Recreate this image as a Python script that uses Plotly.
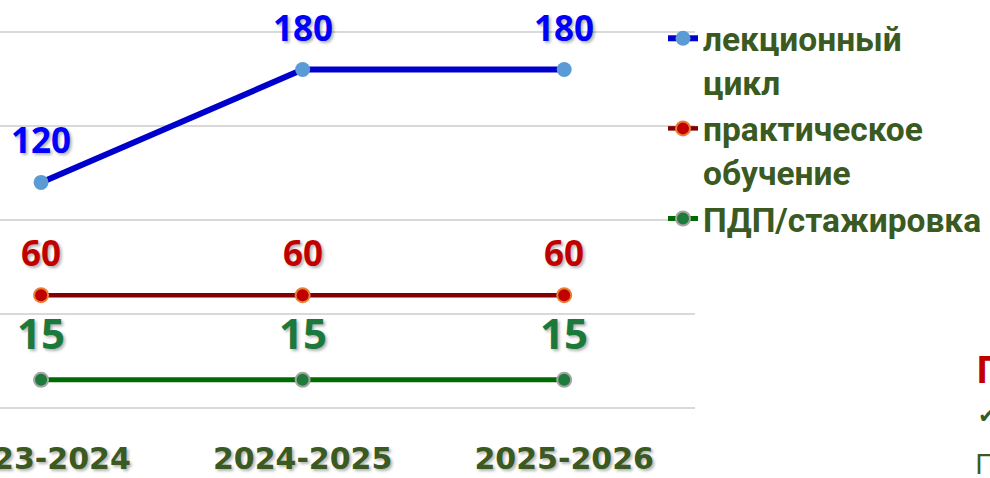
import plotly.graph_objects as go

# ---- data ----
years = ["2023-2024", "2024-2025", "2025-2026"]
lecture = [120, 180, 180]
practice = [60, 60, 60]
internship = [15, 15, 15]
series_names = ["лекционный<br>цикл", "практическое<br>обучение", "ПДП/стажировка"]
y_ticks = [0, 50, 100, 150, 200]

W, H = 990, 478
PLOT_R = 695   # right edge of plot area (px)
PLOT_B = 410   # bottom edge of plot area (px)

def px_x(px):
    return px / PLOT_R

def px_y(py):
    return (PLOT_B - py) / PLOT_B

shadow = "2px 2px 3px rgba(0,0,0,0.30)"
olive = "#3A5A22"

series = [
    dict(y=lecture, name=series_names[0], line="#0000CC", lw=6,
         mfill="#5B9BD5", mline="#5B9BD5", mlw=0, msize=15,
         lab="#0000FF", labsize=35, shift=42.5),
    dict(y=practice, name=series_names[1], line="#820000", lw=4.5,
         mfill="#C00000", mline="#ED7D31", mlw=2, msize=14,
         lab="#C00000", labsize=35, shift=43),
    dict(y=internship, name=series_names[2], line="#006B00", lw=5,
         mfill="#1E7B3C", mline="#A5A5A5", mlw=2, msize=14,
         lab="#1B7A3B", labsize=42, shift=47),
]

fig = go.Figure()
annotations = []
for s in series:
    fig.add_trace(go.Scatter(
        x=years, y=s["y"], name=s["name"], mode="lines+markers",
        line=dict(color=s["line"], width=s["lw"]),
        marker=dict(size=s["msize"], color=s["mfill"],
                    line=dict(color=s["mline"], width=s["mlw"])),
        hoverinfo="skip",
    ))
    for xv, yv in zip(years, s["y"]):
        annotations.append(dict(
            x=xv, y=yv, xref="x", yref="y", text=str(yv), showarrow=False,
            yanchor="middle", xanchor="center", yshift=s["shift"],
            font=dict(family="Noto Sans", size=s["labsize"], color=s["lab"],
                      weight="bold", shadow=shadow),
        ))

# cut-off fragments of a neighbouring text block at the right edge
annotations += [
    dict(x=px_x(974), y=px_y(341), xref="paper", yref="paper", text="П",
         showarrow=False, xanchor="left", yanchor="top",
         font=dict(family="Noto Sans", size=37, color="#C00000", weight="bold")),
    dict(x=px_x(976), y=px_y(401), xref="paper", yref="paper", text="✔",
         showarrow=False, xanchor="left", yanchor="top",
         font=dict(family="DejaVu Sans", size=22, color=olive)),
    dict(x=px_x(973), y=px_y(442), xref="paper", yref="paper", text="П",
         showarrow=False, xanchor="left", yanchor="top",
         font=dict(family="Noto Sans", size=28, color=olive)),
]

fig.update_layout(
    width=W, height=H,
    margin=dict(l=0, r=W - PLOT_R, t=0, b=H - PLOT_B, pad=0, autoexpand=False),
    paper_bgcolor="white", plot_bgcolor="white",
    showlegend=True,
    legend=dict(
        x=px_x(663), xanchor="left", y=px_y(10), yanchor="top",
        bgcolor="rgba(0,0,0,0)", valign="top", tracegroupgap=0,
        font=dict(family="Roboto", size=33.5, color=olive, weight="bold"),
    ),
    annotations=annotations,
    xaxis=dict(
        type="category", range=[-0.157, 2.5], showgrid=False, zeroline=False,
        showline=False, ticks="", automargin=False, ticklabelstandoff=28,
        tickfont=dict(family="DejaVu Sans", size=30, color=olive,
                      weight="bold", shadow=shadow),
    ),
    yaxis=dict(
        range=[-1.06, 217.0], tickvals=y_ticks, showticklabels=False,
        showgrid=True, gridcolor="#D9D9D9", gridwidth=1.5, automargin=False,
        zeroline=False, showline=False, ticks="",
    ),
)

fig.write_html(
    "out.html",
    config={"displayModeBar": False},
    post_script="document.body.style.margin='0';document.body.style.overflow='hidden';",
)
